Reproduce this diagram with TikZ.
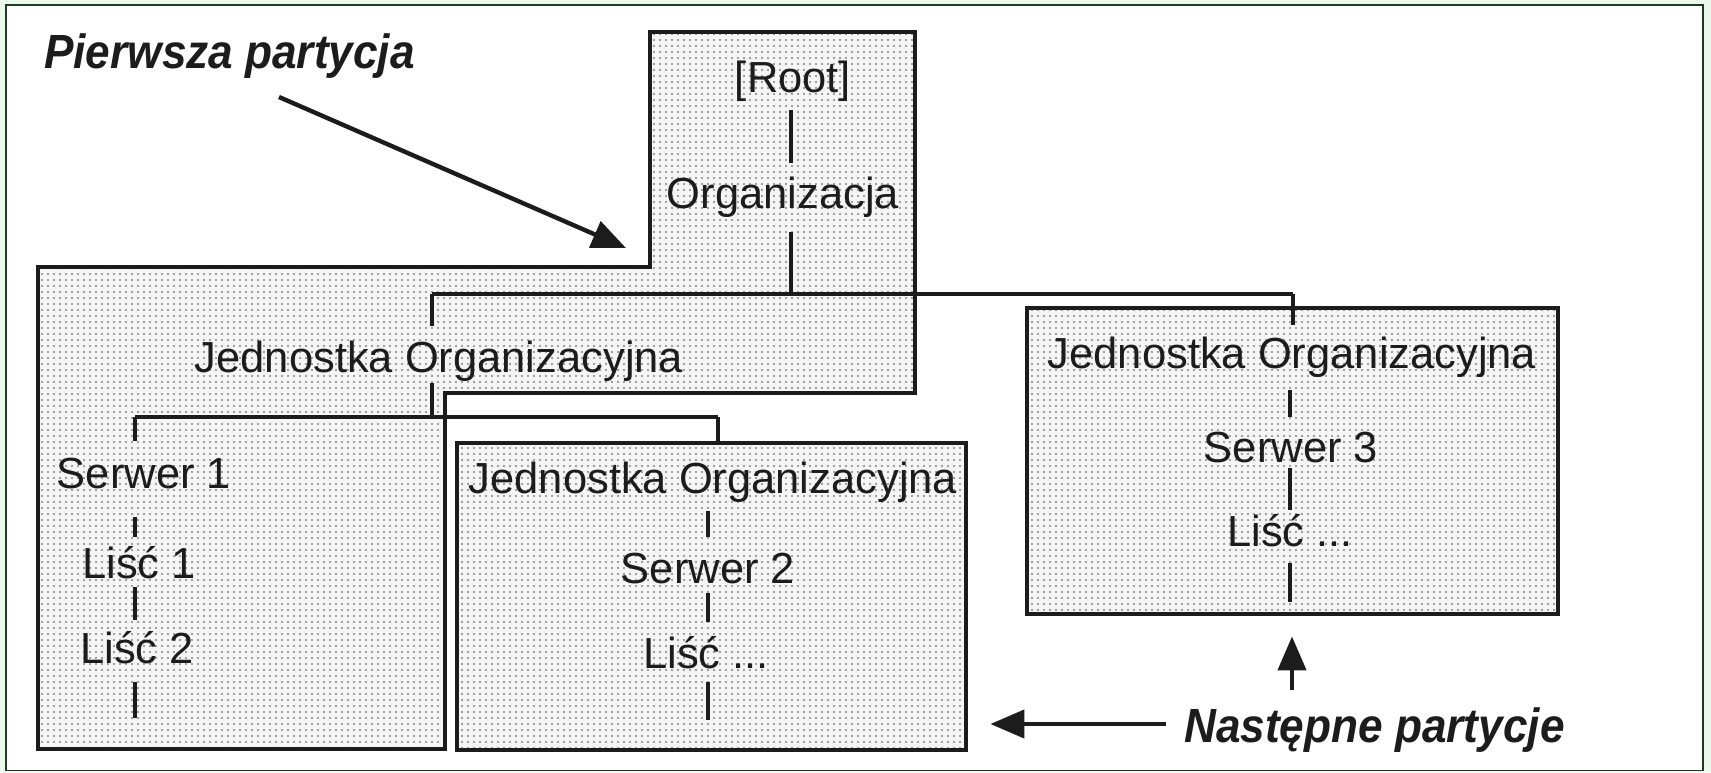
\documentclass[tikz,border=0pt]{standalone}
\usepackage{fontspec}
\setmainfont{Liberation Sans}
\newfontfamily\notefont[FakeStretch=0.92]{Liberation Sans}
\usetikzlibrary{arrows.meta,patterns.meta}
\definecolor{ink}{HTML}{1C1C1C}
\definecolor{mint}{HTML}{EAF9EC}
\definecolor{rim}{HTML}{1E3B22}
\tikzset{
  txt/.style={anchor=base, inner sep=0pt, text=ink, font=\fontsize{43.5}{44}\selectfont},
  note/.style={anchor=base west, inner sep=0pt, text=ink, font=\fontsize{48}{48}\notefont\bfseries\itshape},
  area/.style={draw=ink, line width=4.8pt, preaction={fill=black!4}, pattern={Dots[distance=6pt,radius=1.2pt]}, pattern color=gray},
  box/.style={area, rectangle, inner sep=0pt},
  link/.style={draw=ink, line width=4.4pt},
  pointer/.style={draw=ink, line width=4.4pt, -{Triangle[length=34pt,width=28pt]}}
}
\begin{document}
\begin{tikzpicture}[x=1pt, y=-1pt]
\useasboundingbox (0,0) rectangle (1711,772);
% frame
\fill[mint] (0,0) rectangle (1711,772);
\draw[rim, line width=1.6pt, fill=white] (6,5) rectangle (1703,770.5);
% first partition
\draw[area] (38,267) -- (650,267) -- (650,32) -- (915,32) -- (915,393) -- (445,393) -- (445,749) -- (38,749) -- cycle;
% next partitions
\node[box, minimum width=509pt, minimum height=307pt] (b2) at (711.5,596.5) {};
\node[box, minimum width=531pt, minimum height=306pt] (b3) at (1292.5,461) {};
% labels
\node[txt] (root) at (793,92) {[Root]};
\node[txt] (org) at (783,208) {Organizacja};
\node[txt] (j1) at (439,372) {Jednostka Organizacyjna};
\node[txt] (s1) at (144,488) {Serwer 1};
\node[txt] (l11) at (139,578) {Liść 1};
\node[txt] (l12) at (137,663) {Liść 2};
\node[txt] (j2) at (713,493) {Jednostka Organizacyjna};
\node[txt] (s2) at (708,583) {Serwer 2};
\node[txt] (l2) at (706,668) {Liść ...};
\node[txt] (j3) at (1292,368) {Jednostka Organizacyjna};
\node[txt] (s3) at (1291,462) {Serwer 3};
\node[txt] (l3) at (1290,546) {Liść ...};
% joints
\coordinate (k1) at (432,294);
\coordinate (k2) at (791,294);
\coordinate (k3) at (1293,294);
\coordinate (m1) at (135,417);
\coordinate (m2) at (718,417);
% root branch
\draw[link, shorten <=18pt, shorten >=45pt] (root.base -| k2) -- (org.base -| k2);
\draw[link, shorten <=24pt] (org.base -| k2) -- (k2);
\draw[link] (k1) -- (k3);
\draw[link, shorten >=46pt] (k1) -- (k1 |- j1.base);
\draw[link, shorten >=43pt] (k3) -- (k3 |- j3.base);
% lower bus
\draw[link, shorten <=11pt] (k1 |- j1.base) -- (k1 |- m1);
\draw[link] (m1) -- (m2);
\draw[link] (m2) -- (m2 |- b2.north);
% Serwer 1
\coordinate (e1) at (135,718);
\draw[link, shorten >=47pt] (m1) -- (m1 |- s1.base);
\draw[link, shorten <=29pt, shorten >=41pt] (s1.base -| m1) -- (l11.base -| m1);
\draw[link, shorten <=9pt, shorten >=43pt] (l11.base -| m1) -- (l12.base -| m1);
\draw[link, shorten <=19pt] (l12.base -| m1) -- (e1);
% Serwer 2
\coordinate (c2) at (708,720);
\draw[link, shorten <=18pt, shorten >=46pt] (j2.base -| c2) -- (s2.base -| c2);
\draw[link, shorten <=10pt, shorten >=46pt] (s2.base -| c2) -- (l2.base -| c2);
\draw[link, shorten <=14pt] (l2.base -| c2) -- (c2);
% Serwer 3
\coordinate (c3) at (1290,602);
\draw[link, shorten <=22pt, shorten >=45pt] (j3.base -| c3) -- (s3.base -| c3);
\draw[link, shorten <=6pt, shorten >=36pt] (s3.base -| c3) -- (l3.base -| c3);
\draw[link, shorten <=17pt] (l3.base -| c3) -- (c3);
% notes
\node[note] (p1) at (44,68) {Pierwsza partycja};
\node[note] (n1) at (1184,742) {Następne partycje};
\coordinate (pa) at (279,97);
\coordinate (pt) at (626,248);
\draw[pointer] (pa) -- (pt);
\coordinate (na) at (1166,724);
\draw[pointer, shorten >=22pt] (na) -- (na -| b2.east);
\coordinate (nu) at (1292,690);
\draw[pointer, shorten >=20pt] (nu) -- (nu |- b3.south);
\end{tikzpicture}
\end{document}
